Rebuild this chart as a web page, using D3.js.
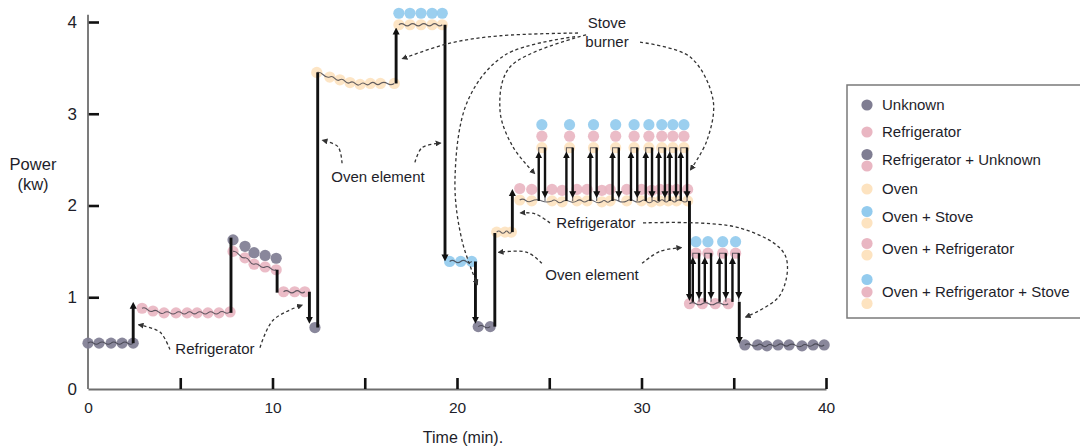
<!DOCTYPE html>
<html>
<head>
<meta charset="utf-8">
<script src="https://cdn.jsdelivr.net/npm/d3@7"></script>
<style>
  body { margin: 0; background: #fff; }
  svg { display: block; font-family: "Liberation Sans", Arial, Helvetica, sans-serif; }
</style>
</head>
<body>
<div id="chart"></div>
<script>
// ---- data -------------------------------------------------------------
const applianceColor = { Unknown: "#7f7d92", Refrigerator: "#e9b6c2", Oven: "#fde3c0", Stove: "#93cbee" };

// legend categories
const categories = ["Unknown", "Refrigerator", "Refrigerator + Unknown", "Oven",
  "Oven + Stove", "Oven + Refrigerator", "Oven + Refrigerator + Stove"];

// appliances of each state, stacked from the bottom dot upwards
const stackOf = {
  "Unknown": ["Unknown"],
  "Refrigerator": ["Refrigerator"],
  "Refrigerator + Unknown": ["Refrigerator", "Unknown"],
  "Oven": ["Oven"],
  "Oven + Stove": ["Oven", "Stove"],
  "Oven + Refrigerator": ["Oven", "Refrigerator"],
  "Oven + Refrigerator + Stove": ["Oven", "Refrigerator", "Stove"],
  "Stove": ["Stove"],
  "Refrigerator + Stove": ["Refrigerator", "Stove"]
};

// measured samples (time in min, power in kW) grouped by state
const segments = [
  { state: "Unknown", t: [0, 0.6, 1.25, 1.85, 2.45], kw: [0.5, 0.5, 0.5, 0.5, 0.5] },
  { state: "Refrigerator", t: [2.93, 3.52, 4.12, 4.77, 5.37, 5.91, 6.5, 7.1, 7.7],
    kw: [0.88, 0.85, 0.83, 0.83, 0.83, 0.83, 0.83, 0.83, 0.84] },
  { state: "Refrigerator + Unknown", t: [7.86, 8.51, 9.0, 9.6, 10.2], kw: [1.5, 1.43, 1.36, 1.33, 1.3] },
  { state: "Refrigerator", t: [10.6, 11.2, 11.75], kw: [1.06, 1.06, 1.06] },
  { state: "Unknown", t: [12.3], kw: [0.67] },
  { state: "Oven", t: [12.4, 13.1, 13.65, 14.2, 14.75, 15.3, 15.85, 16.6],
    kw: [3.45, 3.4, 3.37, 3.34, 3.32, 3.33, 3.33, 3.33] },
  { state: "Oven + Stove", t: [16.85, 17.45, 18.05, 18.65, 19.2], kw: [3.97, 3.97, 3.97, 3.97, 3.97] },
  { state: "Stove", t: [19.6, 20.2, 20.8], kw: [1.39, 1.39, 1.39] },
  { state: "Unknown", t: [21.15, 21.8], kw: [0.68, 0.68] },
  { state: "Oven", t: [22.15, 22.6, 22.95], kw: [1.71, 1.71, 1.71] },
  { state: "Oven + Refrigerator",
    t: [23.4, 24.05, 25.15, 25.7, 26.5, 27.05, 27.85, 28.3, 29.2, 30.0, 30.55, 31.0, 31.45, 31.9, 32.5],
    kw: [2.06, 2.05, 2.05, 2.04, 2.05, 2.05, 2.04, 2.05, 2.05, 2.05, 2.04, 2.05, 2.05, 2.05, 2.05] },
  { state: "Refrigerator", t: [32.6, 33.3, 34.0, 34.7], kw: [0.93, 0.93, 0.93, 0.93] },
  { state: "Unknown", t: [35.6, 36.3, 36.8, 37.4, 38.0, 38.7, 39.3, 39.9],
    kw: [0.48, 0.48, 0.47, 0.48, 0.48, 0.47, 0.48, 0.48] }
];

// short stove-burner pulses on top of a base level
const pulses = [
  { state: "Oven + Refrigerator + Stove", base: 2.05, top: 2.63,
    t: [24.6, 26.1, 27.4, 28.6, 29.6, 30.4, 31.1, 31.7, 32.3] },
  { state: "Refrigerator + Stove", base: 0.95, top: 1.48,
    t: [32.95, 33.6, 34.4, 35.1] }
];

// step changes drawn as black arrows
const stepTime = [2.45, 7.75, 10.25, 12.0, 12.45, 16.7, 19.35, 21.0, 22.05, 23.0, 32.6, 35.3];
const stepFrom = [0.5, 0.83, 1.3, 1.06, 0.67, 3.33, 3.97, 1.39, 0.68, 1.71, 2.05, 0.95];
const stepTo   = [0.94, 1.65, 1.05, 0.72, 3.45, 3.93, 1.4, 0.72, 1.7, 2.17, 0.97, 0.5];
const stepHead = [true, false, false, true, false, true, true, true, false, true, true, true];

// annotations: label lines, label anchor [min, kW], dashed leader paths [min, kW]
const notes = [
  { lines: ["Refrigerator"], at: [6.88, 0.38], paths: [
    [[4.44, 0.43], [3.9, 0.62], [2.75, 0.7]],
    [[9.32, 0.45], [10.03, 0.75], [11.6, 0.915]] ] },
  { lines: ["Oven element"], at: [15.72, 2.256], paths: [
    [[13.77, 2.46], [13.55, 2.64], [12.72, 2.71]],
    [[17.72, 2.47], [18.1, 2.63], [19.1, 2.68]] ] },
  { lines: ["Stove", "burner"], at: [28.13, 3.935], paths: [
    [[26.56, 3.88], [22.33, 3.85], [19.62, 3.77], [17.05, 3.6]],
    [[26.4, 3.84], [22.6, 3.64], [20.6, 3.15], [19.89, 2.28], [20.27, 1.62], [21.1, 1.14]],
    [[27.0, 3.86], [22.87, 3.51], [22.33, 3.04], [23.03, 2.64], [24.2, 2.35]],
    [[29.92, 3.78], [32.63, 3.62], [33.88, 3.15], [33.55, 2.71], [32.66, 2.39]] ] },
  { lines: ["Refrigerator"], at: [27.53, 1.755], paths: [
    [[25.04, 1.81], [24.23, 1.91], [23.45, 1.92]],
    [[30.08, 1.81], [35.34, 1.755], [37.78, 1.46], [37.5, 1.02], [35.65, 0.785]] ] },
  { lines: ["Oven element"], at: [27.32, 1.188], paths: [
    [[24.6, 1.37], [23.8, 1.49], [22.26, 1.49]],
    [[30.03, 1.37], [31.0, 1.5], [32.15, 1.54]] ] }
];

const xTicks = [0, 5, 10, 15, 20, 25, 30, 35, 40];
const yTicks = [0, 1, 2, 3, 4];

// ---- chart ------------------------------------------------------------
const width = 1080, height = 447;
const dotR = 5.6, stackGap = 11.5;
const ink = "#1e1e2a";

const x = d3.scaleLinear().domain([0, 40]).range([88, 826]);
const y = d3.scaleLinear().domain([0, 4]).range([389, 22]);

const svg = d3.select("#chart").append("svg")
  .attr("width", width).attr("height", height)
  .attr("viewBox", [0, 0, width, height]);

const defs = svg.append("defs");
defs.append("marker").attr("id", "headSolid")
  .attr("viewBox", "0 0 10 10").attr("refX", 3).attr("refY", 5)
  .attr("markerWidth", 7).attr("markerHeight", 8)
  .attr("markerUnits", "userSpaceOnUse").attr("orient", "auto")
  .append("path").attr("d", "M0,0L10,5L0,10Z").attr("fill", "#111");
defs.append("marker").attr("id", "headDash")
  .attr("viewBox", "0 0 10 10").attr("refX", 8).attr("refY", 5)
  .attr("markerWidth", 6).attr("markerHeight", 6)
  .attr("markerUnits", "userSpaceOnUse").attr("orient", "auto")
  .append("path").attr("d", "M0,0L10,5L0,10Z").attr("fill", "#333");

// axes
const gx = svg.append("g").attr("transform", `translate(0,${y(0)})`)
  .call(d3.axisBottom(x).tickValues(xTicks).tickSizeInner(-11).tickSizeOuter(0).tickPadding(13)
    .tickFormat(d => d % 10 === 0 ? d : ""));
gx.select(".domain").attr("stroke", "#6e6e6e").attr("stroke-width", 1.8);
gx.selectAll(".tick line").attr("stroke", "#111").attr("stroke-width", 2.6)
  .filter(d => d === 0).remove();
gx.selectAll(".tick text").attr("fill", ink).style("font-size", "15.5px");

const gy = svg.append("g").attr("transform", `translate(${x(0)},0)`)
  .call(d3.axisLeft(y).tickValues(yTicks).tickFormat(d3.format("d"))
    .tickSizeInner(-11).tickSizeOuter(0).tickPadding(11));
gy.select(".domain").remove();
gy.append("line").attr("y1", y(0)).attr("y2", y(4.08))
  .attr("stroke", "#6e6e6e").attr("stroke-width", 1.8);
gy.selectAll(".tick line").attr("stroke", "#111").attr("stroke-width", 2.6)
  .filter(d => d === 0).remove();
gy.selectAll(".tick text").attr("fill", ink).style("font-size", "17px");

svg.append("text").attr("x", 33).attr("y", 170).attr("text-anchor", "middle")
  .attr("fill", ink).style("font-size", "16.5px").text("Power");
svg.append("text").attr("x", 33).attr("y", 190).attr("text-anchor", "middle")
  .attr("fill", ink).style("font-size", "16.5px").text("(kw)");
svg.append("text").attr("x", 463).attr("y", 443).attr("text-anchor", "middle")
  .attr("fill", ink).style("font-size", "16px").text("Time (min).");

// dots
const dotData = [];
segments.forEach(s => s.t.forEach((t, i) => dotData.push({ t, kw: s.kw[i], state: s.state })));
pulses.forEach(p => p.t.forEach(t => dotData.push({ t, kw: p.top, state: p.state })));

const dots = svg.append("g");
dotData.forEach(d => {
  stackOf[d.state].forEach((a, k) => {
    dots.append("circle")
      .attr("cx", x(d.t)).attr("cy", y(d.kw) - k * stackGap).attr("r", dotR)
      .attr("fill", applianceColor[a]).attr("fill-opacity", 0.92);
  });
});

// measured trace (thin wavy line through the bottom dots)
function wavy(pts) {
  let d = `M${pts[0][0]},${pts[0][1]}`;
  for (let i = 1; i < pts.length; i++) {
    const [x0, y0] = pts[i - 1], [x1, y1] = pts[i];
    const mx = (x0 + x1) / 2, my = (y0 + y1) / 2;
    d += `Q${(x0 + mx) / 2},${(y0 + my) / 2 - 2.2} ${mx},${my}`;
    d += `Q${(mx + x1) / 2},${(my + y1) / 2 + 2.2} ${x1},${y1}`;
  }
  return d;
}
const trace = svg.append("g").attr("fill", "none").attr("stroke", "#3b3b45")
  .attr("stroke-width", 1.1).attr("stroke-opacity", 0.8);
segments.filter(s => s.t.length > 1).forEach(s => {
  trace.append("path").attr("d", wavy(s.t.map((t, i) => [x(t), y(s.kw[i])])));
});
pulses.forEach(p => p.t.forEach(t => {
  trace.append("path").attr("d",
    `M${x(t - 0.17)},${y(p.base)}V${y(p.top)}H${x(t + 0.17)}V${y(p.base)}`);
}));

// black step arrows
const arrows = svg.append("g").attr("stroke", "#111");
function arrow(t, from, to, head, w) {
  const dir = to > from ? -1 : 1; // pixel direction
  const y2 = y(to) - (head ? dir * 4 : 0);
  arrows.append("line")
    .attr("x1", x(t)).attr("x2", x(t)).attr("y1", y(from)).attr("y2", y2)
    .attr("stroke-width", w)
    .attr("marker-end", head ? "url(#headSolid)" : null);
}
stepTime.forEach((t, i) => arrow(t, stepFrom[i], stepTo[i], stepHead[i], 2.9));
pulses.forEach(p => p.t.forEach(t => {
  arrow(t - 0.17, p.base, p.top - 0.05, true, 2.4);
  arrow(t + 0.17, p.top, p.base + 0.04, true, 2.4);
}));

// annotations
const curve = d3.line().x(d => x(d[0])).y(d => y(d[1])).curve(d3.curveCatmullRom.alpha(0.5));
const ann = svg.append("g");
notes.forEach(n => {
  n.paths.forEach(p => {
    ann.append("path").attr("d", curve(p)).attr("fill", "none")
      .attr("stroke", "#333").attr("stroke-width", 1.3)
      .attr("stroke-dasharray", "3.2,2.6").attr("marker-end", "url(#headDash)");
  });
  n.lines.forEach((line, i) => {
    ann.append("text").attr("x", x(n.at[0])).attr("y", y(n.at[1]) + i * 19)
      .attr("text-anchor", "middle").attr("fill", ink).style("font-size", "15px").text(line);
  });
});

// legend
const legendRowY = [105, 132, 160, 189, 217, 249, 292];
const legendDotDy = { 1: [0], 2: [6, -5.5], 3: [11.5, 0, -12.5] };
const legend = svg.append("g");
legend.append("rect").attr("x", 847).attr("y", 85).attr("width", 245).attr("height", 233)
  .attr("fill", "#fff").attr("stroke", "#7a7a7a").attr("stroke-width", 1.5);
categories.forEach((c, i) => {
  const stack = stackOf[c];
  stack.forEach((a, k) => {
    legend.append("circle").attr("cx", 867).attr("cy", legendRowY[i] + legendDotDy[stack.length][k])
      .attr("r", dotR).attr("fill", applianceColor[a]);
  });
  legend.append("text").attr("x", 882).attr("y", legendRowY[i]).attr("dy", "0.35em")
    .attr("fill", ink).style("font-size", "15px").text(c);
});
</script>
</body>
</html>
